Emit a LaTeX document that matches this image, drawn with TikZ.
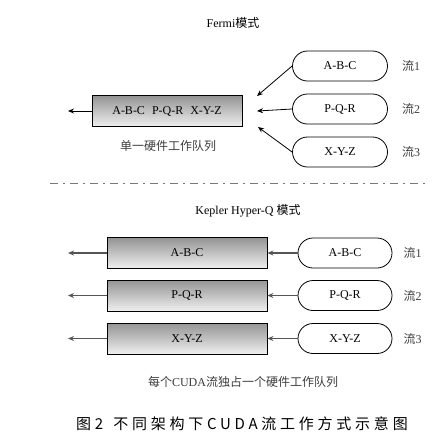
\documentclass[tikz,border=0pt]{standalone}
\usepackage{fontspec}
\setmainfont{Liberation Serif}
\newfontfamily\cjk{Noto Sans CJK SC}
\newfontfamily\capfont{Noto Sans CJK SC}[LetterSpace=25]
\usetikzlibrary{arrows.meta, positioning, shapes.misc}
\definecolor{linegray}{RGB}{85,85,85}
\definecolor{notegray}{RGB}{60,60,60}
\definecolor{sepgray}{RGB}{120,120,120}
\tikzset{
  txt/.style={font=\fontsize{12}{14}\selectfont},
  title/.style={txt, inner sep=0pt},
  stream/.style={rounded rectangle, draw, line width=0.8pt, txt,
    minimum width=95pt, minimum height=30pt, inner sep=0pt},
  queue/.style={rectangle, draw, line width=0.8pt, txt,
    top color=black!42, bottom color=black!6,
    minimum height=31pt, inner sep=0pt},
  tag/.style={txt, inner sep=0pt, text=notegray},
  note/.style={txt, inner sep=0pt, text=notegray},
  outarrow/.style={-{Stealth[length=6pt, width=5pt]}, line width=0.8pt},
  inarrow/.style={-{Stealth[length=6pt, width=5pt]}, line width=0.8pt},
  keparrow/.style={-{Stealth[length=6pt, width=5pt]}, line width=1.3pt,
    color=linegray},
  sepline/.style={line width=0.9pt, sepgray,
    dash pattern=on 8pt off 5pt on 1.5pt off 5.5pt},
}
\begin{document}
\begin{tikzpicture}[x=1pt, y=1pt]
  \useasboundingbox (0,0) rectangle (446,-445);

  % Fermi
  \node[title] (fermi) at (233,-23) {Fermi{\cjk 模式}};
  \node[stream] (f1) at (340,-66) {A-B-C};
  \node[stream] (f2) at (340,-109) {P-Q-R};
  \node[stream] (f3) at (340,-152) {X-Y-Z};
  \foreach \i in {1,2,3}
    \node[tag, right=14pt of f\i] (ft\i) {{\cjk 流}\i};

  \node[queue, minimum width=150pt] (fq) at (167,-111)
    {A-B-C\hspace{7pt}P-Q-R\hspace{7pt}X-Y-Z};
  \coordinate (fout) at (68,-111);
  \coordinate (fin1) at (257,-96);
  \coordinate (fin2) at (257,-111);
  \coordinate (fin3) at (258,-127);
  \draw[outarrow] (fq.west) -- (fout);
  \foreach \i in {1,2,3}
    \draw[inarrow] (f\i.west) -- (fin\i);
  \node[note] (fnote) at (168,-146) {\cjk 单一硬件工作队列};

  % separator
  \coordinate (sepl) at (50,-183);
  \coordinate (sepr) at (428,-183);
  \draw[sepline] (sepl) -- (sepr);

  % Kepler Hyper-Q
  \node[title] (kepler) at (248,-211) {Kepler Hyper-Q {\cjk 模式}};
  \foreach \n/\t/\y in {1/A-B-C/253, 2/P-Q-R/295.5, 3/X-Y-Z/338.5} {
    \node[queue, minimum width=160pt] (kq\n) at (187,-\y) {\t};
    \node[stream, minimum width=94pt] (k\n) at (345,-\y) {\t};
    \node[tag, right=11pt of k\n] (kt\n) {{\cjk 流}\n};
    \coordinate (kout\n) at (68,-\y);
    \draw[keparrow] (kq\n.west) -- (kout\n);
    \draw[keparrow] (k\n.west) -- (kq\n.east);
  }
  \node[note] (knote) at (243,-382)
    {{\cjk 每个}CUDA{\cjk 流独占一个硬件工作队列}};

  % caption
  \node[inner sep=0pt, font=\capfont\fontsize{15}{17}\selectfont] (cap)
    at (242,-424) {图2\hspace{10pt}不同架构下CUDA流工作方式示意图};
\end{tikzpicture}
\end{document}
